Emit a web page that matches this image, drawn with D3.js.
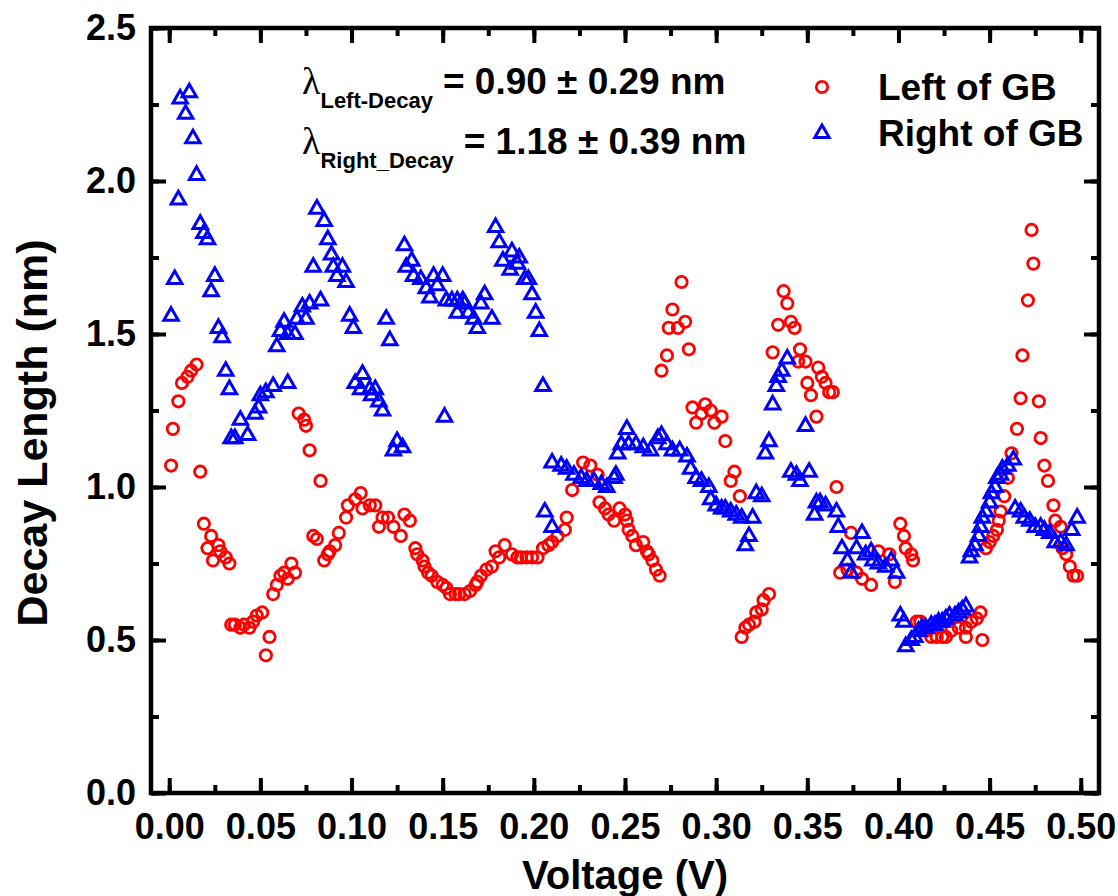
<!DOCTYPE html>
<html><head><meta charset="utf-8">
<script src="https://cdn.jsdelivr.net/npm/d3@7"></script>
<style>body{margin:0;background:#fff}</style>
</head><body>
<svg id="c" width="1118" height="896"></svg>
<script>
const xTicks = [0, 0.05, 0.10, 0.15, 0.20, 0.25, 0.30, 0.35, 0.40, 0.45, 0.50];
const yTicks = [0, 0.5, 1.0, 1.5, 2.0, 2.5];
const seriesNames = ["Left of GB", "Right of GB"];

const leftV = [0.001,0.002,0.005,0.007,0.010,0.012,0.015,0.017,0.019,0.021,0.023,0.024,0.027,0.028,0.031,0.033,0.034,0.036,0.039,0.041,0.044,0.046,0.048,0.051,0.053,0.055,0.057,0.059,0.061,0.063,0.065,0.067,0.069,0.071,0.074,0.075,0.077,0.079,0.081,0.083,0.085,0.087,0.088,0.091,0.093,0.097,0.098,0.102,0.105,0.106,0.110,0.113,0.115,0.117,0.120,0.123,0.127,0.129,0.132,0.135,0.136,0.139,0.140,0.142,0.144,0.147,0.150,0.152,0.154,0.157,0.159,0.162,0.165,0.168,0.169,0.171,0.174,0.177,0.179,0.181,0.184,0.188,0.191,0.193,0.196,0.199,0.202,0.205,0.208,0.210,0.213,0.217,0.218,0.221,0.227,0.231,0.235,0.236,0.239,0.241,0.244,0.247,0.250,0.251,0.252,0.254,0.256,0.260,0.262,0.263,0.265,0.267,0.269,0.270,0.273,0.274,0.276,0.279,0.281,0.283,0.285,0.287,0.289,0.292,0.294,0.297,0.299,0.303,0.305,0.308,0.310,0.313,0.314,0.316,0.318,0.321,0.322,0.325,0.326,0.329,0.331,0.334,0.337,0.339,0.341,0.343,0.345,0.346,0.349,0.350,0.352,0.355,0.356,0.358,0.360,0.362,0.364,0.366,0.368,0.372,0.374,0.377,0.380,0.385,0.389,0.395,0.398,0.401,0.403,0.404,0.407,0.408,0.410,0.412,0.415,0.418,0.421,0.424,0.426,0.429,0.433,0.437,0.437,0.440,0.443,0.445,0.446,0.448,0.450,0.452,0.454,0.455,0.456,0.458,0.460,0.462,0.465,0.467,0.468,0.471,0.473,0.474,0.477,0.478,0.480,0.482,0.485,0.486,0.489,0.490,0.492,0.494,0.496,0.498];
const leftL = [1.07,1.19,1.28,1.34,1.36,1.38,1.40,1.05,0.88,0.80,0.84,0.76,0.81,0.79,0.77,0.75,0.55,0.55,0.54,0.55,0.54,0.56,0.58,0.59,0.45,0.51,0.65,0.68,0.71,0.72,0.70,0.75,0.72,1.24,1.22,1.20,1.12,0.84,0.83,1.02,0.76,0.78,0.79,0.81,0.85,0.90,0.94,0.96,0.98,0.93,0.94,0.94,0.87,0.90,0.90,0.87,0.84,0.91,0.89,0.80,0.78,0.76,0.74,0.72,0.71,0.69,0.68,0.67,0.65,0.65,0.65,0.65,0.66,0.68,0.69,0.71,0.73,0.74,0.79,0.77,0.81,0.78,0.77,0.77,0.77,0.77,0.77,0.80,0.81,0.82,0.84,0.86,0.90,0.99,1.08,1.07,1.04,0.95,0.93,0.91,0.89,0.93,0.91,0.89,0.86,0.84,0.81,0.82,0.79,0.78,0.76,0.73,0.71,1.38,1.43,1.52,1.58,1.52,1.67,1.54,1.45,1.26,1.21,1.24,1.27,1.25,1.21,1.23,1.15,1.02,1.05,0.97,0.51,0.54,0.55,0.56,0.59,0.60,0.63,0.65,1.44,1.53,1.64,1.60,1.54,1.52,1.41,1.45,1.41,1.34,1.30,1.23,1.39,1.36,1.34,1.31,1.31,1.00,0.72,0.73,0.85,0.72,0.70,0.68,0.79,0.78,0.69,0.88,0.84,0.80,0.78,0.76,0.56,0.56,0.53,0.51,0.51,0.51,0.51,0.53,0.54,0.51,0.54,0.56,0.57,0.59,0.50,0.80,0.82,0.84,0.86,0.89,0.92,0.97,1.03,1.11,1.19,1.29,1.43,1.61,1.84,1.73,1.28,1.16,1.07,1.02,0.94,0.89,0.87,0.80,0.78,0.74,0.71,0.71];

const rightV = [0.001,0.003,0.005,0.006,0.009,0.011,0.013,0.015,0.017,0.019,0.021,0.023,0.025,0.027,0.029,0.031,0.033,0.034,0.036,0.039,0.043,0.047,0.049,0.050,0.053,0.057,0.059,0.061,0.063,0.065,0.065,0.069,0.070,0.073,0.075,0.077,0.079,0.081,0.083,0.085,0.087,0.089,0.090,0.092,0.095,0.097,0.099,0.101,0.102,0.105,0.106,0.110,0.111,0.113,0.115,0.117,0.119,0.121,0.123,0.125,0.128,0.129,0.130,0.133,0.134,0.138,0.141,0.143,0.145,0.147,0.150,0.151,0.152,0.155,0.158,0.158,0.161,0.162,0.164,0.167,0.169,0.171,0.173,0.177,0.179,0.181,0.183,0.187,0.188,0.191,0.192,0.195,0.197,0.199,0.201,0.203,0.205,0.206,0.210,0.210,0.215,0.218,0.222,0.226,0.229,0.233,0.237,0.240,0.244,0.245,0.246,0.248,0.251,0.252,0.256,0.260,0.264,0.268,0.270,0.273,0.276,0.280,0.284,0.286,0.289,0.292,0.296,0.297,0.300,0.303,0.305,0.308,0.311,0.314,0.316,0.318,0.320,0.322,0.325,0.327,0.329,0.331,0.333,0.334,0.336,0.339,0.341,0.344,0.346,0.349,0.351,0.354,0.355,0.357,0.360,0.366,0.367,0.369,0.372,0.374,0.377,0.380,0.382,0.385,0.386,0.389,0.393,0.396,0.399,0.401,0.403,0.404,0.407,0.409,0.411,0.413,0.415,0.418,0.420,0.422,0.424,0.426,0.428,0.431,0.433,0.435,0.437,0.439,0.440,0.442,0.444,0.445,0.446,0.448,0.450,0.451,0.453,0.454,0.456,0.457,0.460,0.463,0.464,0.467,0.469,0.472,0.475,0.478,0.480,0.483,0.486,0.489,0.492,0.495,0.498];
const rightL = [1.56,1.68,1.94,2.27,2.22,2.29,2.14,2.02,1.86,1.83,1.81,1.64,1.69,1.52,1.49,1.38,1.32,1.16,1.16,1.22,1.17,1.24,1.26,1.30,1.31,1.33,1.46,1.51,1.54,1.34,1.50,1.50,1.55,1.59,1.55,1.60,1.72,1.91,1.61,1.87,1.81,1.76,1.72,1.69,1.72,1.67,1.56,1.52,1.34,1.32,1.37,1.32,1.30,1.32,1.28,1.25,1.55,1.48,1.12,1.15,1.13,1.79,1.72,1.74,1.69,1.68,1.65,1.62,1.69,1.66,1.69,1.23,1.61,1.61,1.61,1.57,1.61,1.60,1.57,1.55,1.52,1.60,1.63,1.55,1.85,1.80,1.74,1.71,1.77,1.73,1.75,1.68,1.68,1.63,1.57,1.51,1.33,0.92,0.87,1.08,1.07,1.06,1.04,1.03,1.02,1.02,1.01,1.00,1.03,1.04,1.11,1.14,1.19,1.14,1.14,1.13,1.12,1.16,1.17,1.14,1.12,1.12,1.10,1.06,1.03,1.02,1.00,0.96,0.94,0.93,0.93,0.92,0.91,0.90,0.81,0.84,0.90,0.98,0.97,1.11,1.15,1.27,1.33,1.36,1.38,1.42,1.05,1.04,1.02,1.20,1.05,0.91,0.95,0.95,0.94,0.92,0.87,0.80,0.76,0.72,0.80,0.85,0.78,0.79,0.76,0.75,0.74,0.76,0.72,0.58,0.56,0.48,0.50,0.51,0.53,0.54,0.54,0.55,0.55,0.56,0.56,0.57,0.58,0.58,0.59,0.60,0.61,0.77,0.79,0.81,0.84,0.87,0.90,0.92,0.95,0.98,1.00,1.03,1.04,1.06,1.07,1.09,0.93,0.92,0.90,0.89,0.87,0.87,0.86,0.85,0.82,0.82,0.81,0.86,0.90];

const FONT = "'Liberation Sans', Arial, sans-serif";
const svg = d3.select("#c");
const M = {l:151, r:1099, t:28, b:793};
const x = d3.scaleLinear().domain([-0.01, 0.51]).range([M.l, M.r]);
const y = d3.scaleLinear().domain([0, 2.5]).range([M.b, M.t]);

const xMinor = d3.range(0, 0.5001, 0.025);
const yMinor = d3.range(0, 2.5001, 0.25);
const MAJ = 15, MIN = 8, TW = 4;

function styleAxis(g){
  g.select(".domain").remove();
  g.selectAll(".tick line").attr("stroke", "#000").attr("stroke-width", TW);
  g.selectAll("text").attr("font-family", FONT).attr("font-weight", "bold").attr("font-size", 36).attr("fill", "#000");
}
// minor ticks
svg.append("g").attr("transform", `translate(0,${M.b})`).call(d3.axisBottom(x).tickValues(xMinor).tickSize(-MIN).tickFormat("")).call(styleAxis);
svg.append("g").attr("transform", `translate(0,${M.t})`).call(d3.axisTop(x).tickValues(xMinor).tickSize(-MIN).tickFormat("")).call(styleAxis);
svg.append("g").attr("transform", `translate(${M.l},0)`).call(d3.axisLeft(y).tickValues(yMinor).tickSize(-MIN).tickFormat("")).call(styleAxis);
svg.append("g").attr("transform", `translate(${M.r},0)`).call(d3.axisRight(y).tickValues(yMinor).tickSize(-MIN).tickFormat("")).call(styleAxis);
// major ticks
svg.append("g").attr("transform", `translate(0,${M.b})`).call(d3.axisBottom(x).tickValues(xTicks).tickSize(-MAJ).tickPadding(20).tickFormat(d3.format(".2f"))).call(styleAxis);
svg.append("g").attr("transform", `translate(0,${M.t})`).call(d3.axisTop(x).tickValues(xTicks).tickSize(-MAJ).tickFormat("")).call(styleAxis);
svg.append("g").attr("transform", `translate(${M.l},0)`).call(d3.axisLeft(y).tickValues(yTicks).tickSize(-MAJ).tickPadding(15).tickFormat(d3.format(".1f"))).call(styleAxis);
svg.append("g").attr("transform", `translate(${M.r},0)`).call(d3.axisRight(y).tickValues(yTicks).tickSize(-MAJ).tickFormat("")).call(styleAxis);

// frame
svg.append("rect").attr("x", M.l).attr("y", M.t).attr("width", M.r - M.l).attr("height", M.b - M.t)
  .attr("fill", "none").attr("stroke", "#000").attr("stroke-width", 4.5);

// data
const triPath = "M0,-8L7.2,4.6L-7.2,4.6Z";
const leftData = leftV.map((v, i) => [v, leftL[i]]);
const rightData = rightV.map((v, i) => [v, rightL[i]]);
svg.append("g").selectAll("circle").data(leftData).join("circle")
  .attr("cx", d => x(d[0])).attr("cy", d => y(d[1])).attr("r", 5.7)
  .attr("fill", "none").attr("stroke", "#ff0000").attr("stroke-width", 2.8);
svg.append("g").selectAll("path").data(rightData).join("path")
  .attr("d", triPath).attr("transform", d => `translate(${x(d[0])},${y(d[1])})`)
  .attr("fill", "none").attr("stroke", "#0000ff").attr("stroke-width", 3);

// axis titles
svg.append("text").attr("x", 625).attr("y", 889).attr("text-anchor", "middle")
  .attr("font-family", FONT).attr("font-weight", "bold").attr("font-size", 40).text("Voltage (V)");
svg.append("text").attr("transform", "translate(47,433) rotate(-90)").attr("text-anchor", "middle")
  .attr("font-family", FONT).attr("font-weight", "bold").attr("font-size", 43).text("Decay Length (nm)");

// legend
svg.append("circle").attr("cx", 822).attr("cy", 87).attr("r", 5.7).attr("fill", "none").attr("stroke", "#ff0000").attr("stroke-width", 2.8);
svg.append("path").attr("d", triPath).attr("transform", "translate(822,133)").attr("fill", "none").attr("stroke", "#0000ff").attr("stroke-width", 3);
svg.append("text").attr("x", 878).attr("y", 100).attr("font-family", FONT).attr("font-weight", "bold").attr("font-size", 37).text(seriesNames[0]);
svg.append("text").attr("x", 878).attr("y", 146).attr("font-family", FONT).attr("font-weight", "bold").attr("font-size", 37).text(seriesNames[1]);

// annotations
function lam(yb, sub, rest){
  const t = svg.append("text").attr("x", 302).attr("y", yb).attr("font-family", FONT).attr("font-weight", "bold");
  t.append("tspan").attr("font-family", "'Liberation Serif', 'DejaVu Serif', serif").attr("font-weight", "normal").attr("font-size", 38).text("λ");
  t.append("tspan").attr("font-size", 22).attr("dy", 14).text(sub);
  t.append("tspan").attr("font-size", 37).attr("dy", -14).attr("dx", 10).text(rest);
}
lam(94, "Left-Decay", "= 0.90 ± 0.29 nm");
lam(154, "Right_Decay", "= 1.18 ± 0.39 nm");
</script>
</body></html>
